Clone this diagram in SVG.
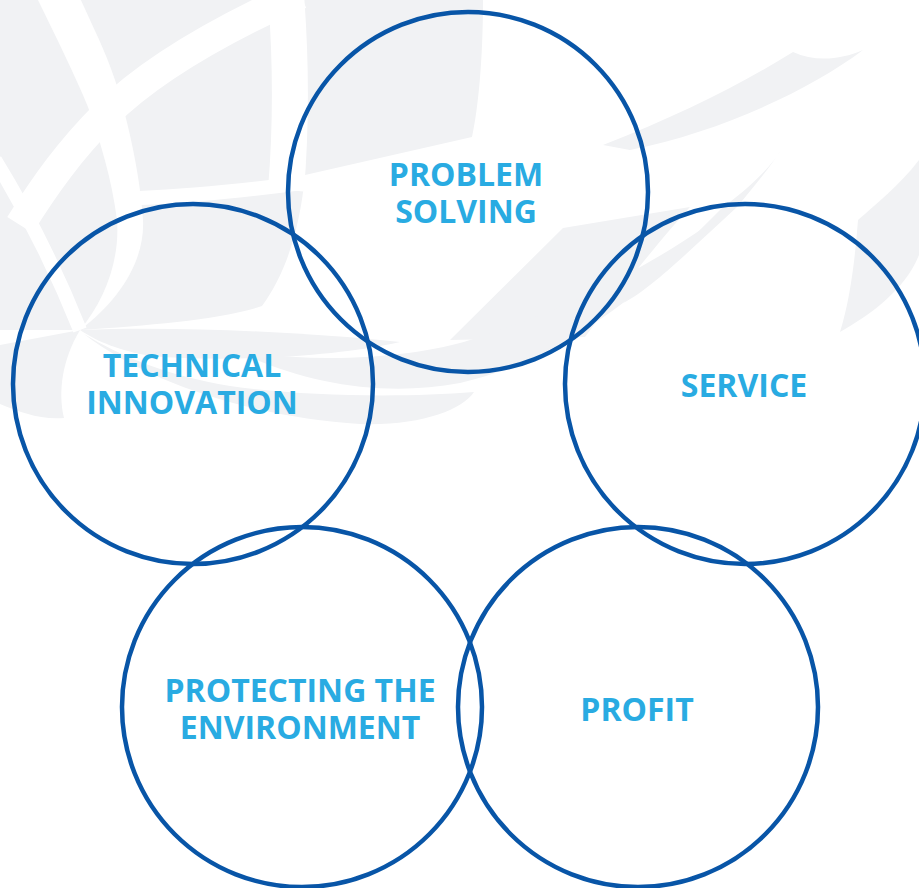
<svg xmlns="http://www.w3.org/2000/svg" width="919" height="888" viewBox="0 0 919 888">
<style>
.bg{fill:#f1f2f4}
.wb{fill:#ffffff}
.ring{fill:none;stroke:#0855a7;stroke-width:4.5}
.lbl{font-family:"Open Sans","Noto Sans","Liberation Sans",sans-serif;font-weight:700;font-size:32px;fill:#29abe2;text-anchor:middle}
</style>
<rect width="919" height="888" fill="#ffffff"/>
<g id="watermark">
  <path class="bg" d="M0,0 H483 C483,60 478,110 472,137 L305,175 C300,230 285,275 262,306 C220,320 150,325 80,330 L0,330 Z"/>
  <path class="bg" d="M0,345 L80,330 C62,360 58,392 64,418 C40,420 20,412 0,404 Z"/>
  <path class="bg" d="M80,330 C180,326 300,332 400,342 C330,358 220,362 150,356 C118,350 98,342 80,330 Z"/>
  <path class="bg" d="M84,334 C150,385 260,418 360,424 C420,426 462,410 474,392 C400,398 300,396 230,386 C168,376 120,356 84,334 Z"/>
  <path class="wb" d="M80,330 C120,300 145,260 143,220 C140,170 125,110 115,80 C105,50 92,25 80,-2 L37,-2 C55,35 75,75 88,107 C100,140 112,180 117,220 C120,260 105,300 80,330 Z"/>
  <path d="M80,330 C60,280 35,225 -5,160" fill="none" stroke="#fff" stroke-width="14"/>
  <path d="M300,-6 C220,30 150,70 105,115 C70,150 45,185 20,225" fill="none" stroke="#fff" stroke-width="30"/>
  <path d="M286,-5 C291,60 291,130 286,190" fill="none" stroke="#fff" stroke-width="36"/>
  <path d="M310,182 C250,190 190,196 140,198" fill="none" stroke="#fff" stroke-width="14"/>
  <path class="bg" d="M563,228 L690,207 C660,240 620,290 585,337 L450,340 Z"/>
  <path class="bg" d="M706,226 C650,290 560,360 460,383 C380,398 300,382 235,350 C320,366 420,356 470,340 C560,312 640,272 706,226 Z"/>
  <path class="bg" d="M603,145 C680,115 740,85 793,52 C815,62 840,60 863,50 C810,90 720,132 630,150 Z"/>
  <path class="bg" d="M783,147 C770,170 740,195 723,207 C690,240 655,275 623,303 C650,290 690,250 737,207 C755,185 772,165 783,147 Z"/>
  <path class="bg" d="M919,160 C900,185 875,205 858,220 C855,260 850,300 840,332 C870,315 905,290 919,255 Z"/>
</g>
<g id="connectors"></g>
<g id="node-problem-solving">
  <circle class="ring" cx="468" cy="192" r="180"/>
  <text class="lbl" x="466" y="186">PROBLEM<tspan x="466" y="223">SOLVING</tspan></text>
</g>
<g id="node-technical-innovation">
  <circle class="ring" cx="193" cy="384" r="180"/>
  <text class="lbl" x="192" y="377">TECHNICAL<tspan x="192" y="414">INNOVATION</tspan></text>
</g>
<g id="node-service">
  <circle class="ring" cx="745" cy="384" r="180"/>
  <text class="lbl" x="744" y="397">SERVICE</text>
</g>
<g id="node-protecting-environment">
  <circle class="ring" cx="302" cy="707" r="180"/>
  <text class="lbl" x="300" y="702">PROTECTING THE<tspan x="300" y="739">ENVIRONMENT</tspan></text>
</g>
<g id="node-profit">
  <circle class="ring" cx="638" cy="707" r="180"/>
  <text class="lbl" x="637" y="721">PROFIT</text>
</g>
</svg>
